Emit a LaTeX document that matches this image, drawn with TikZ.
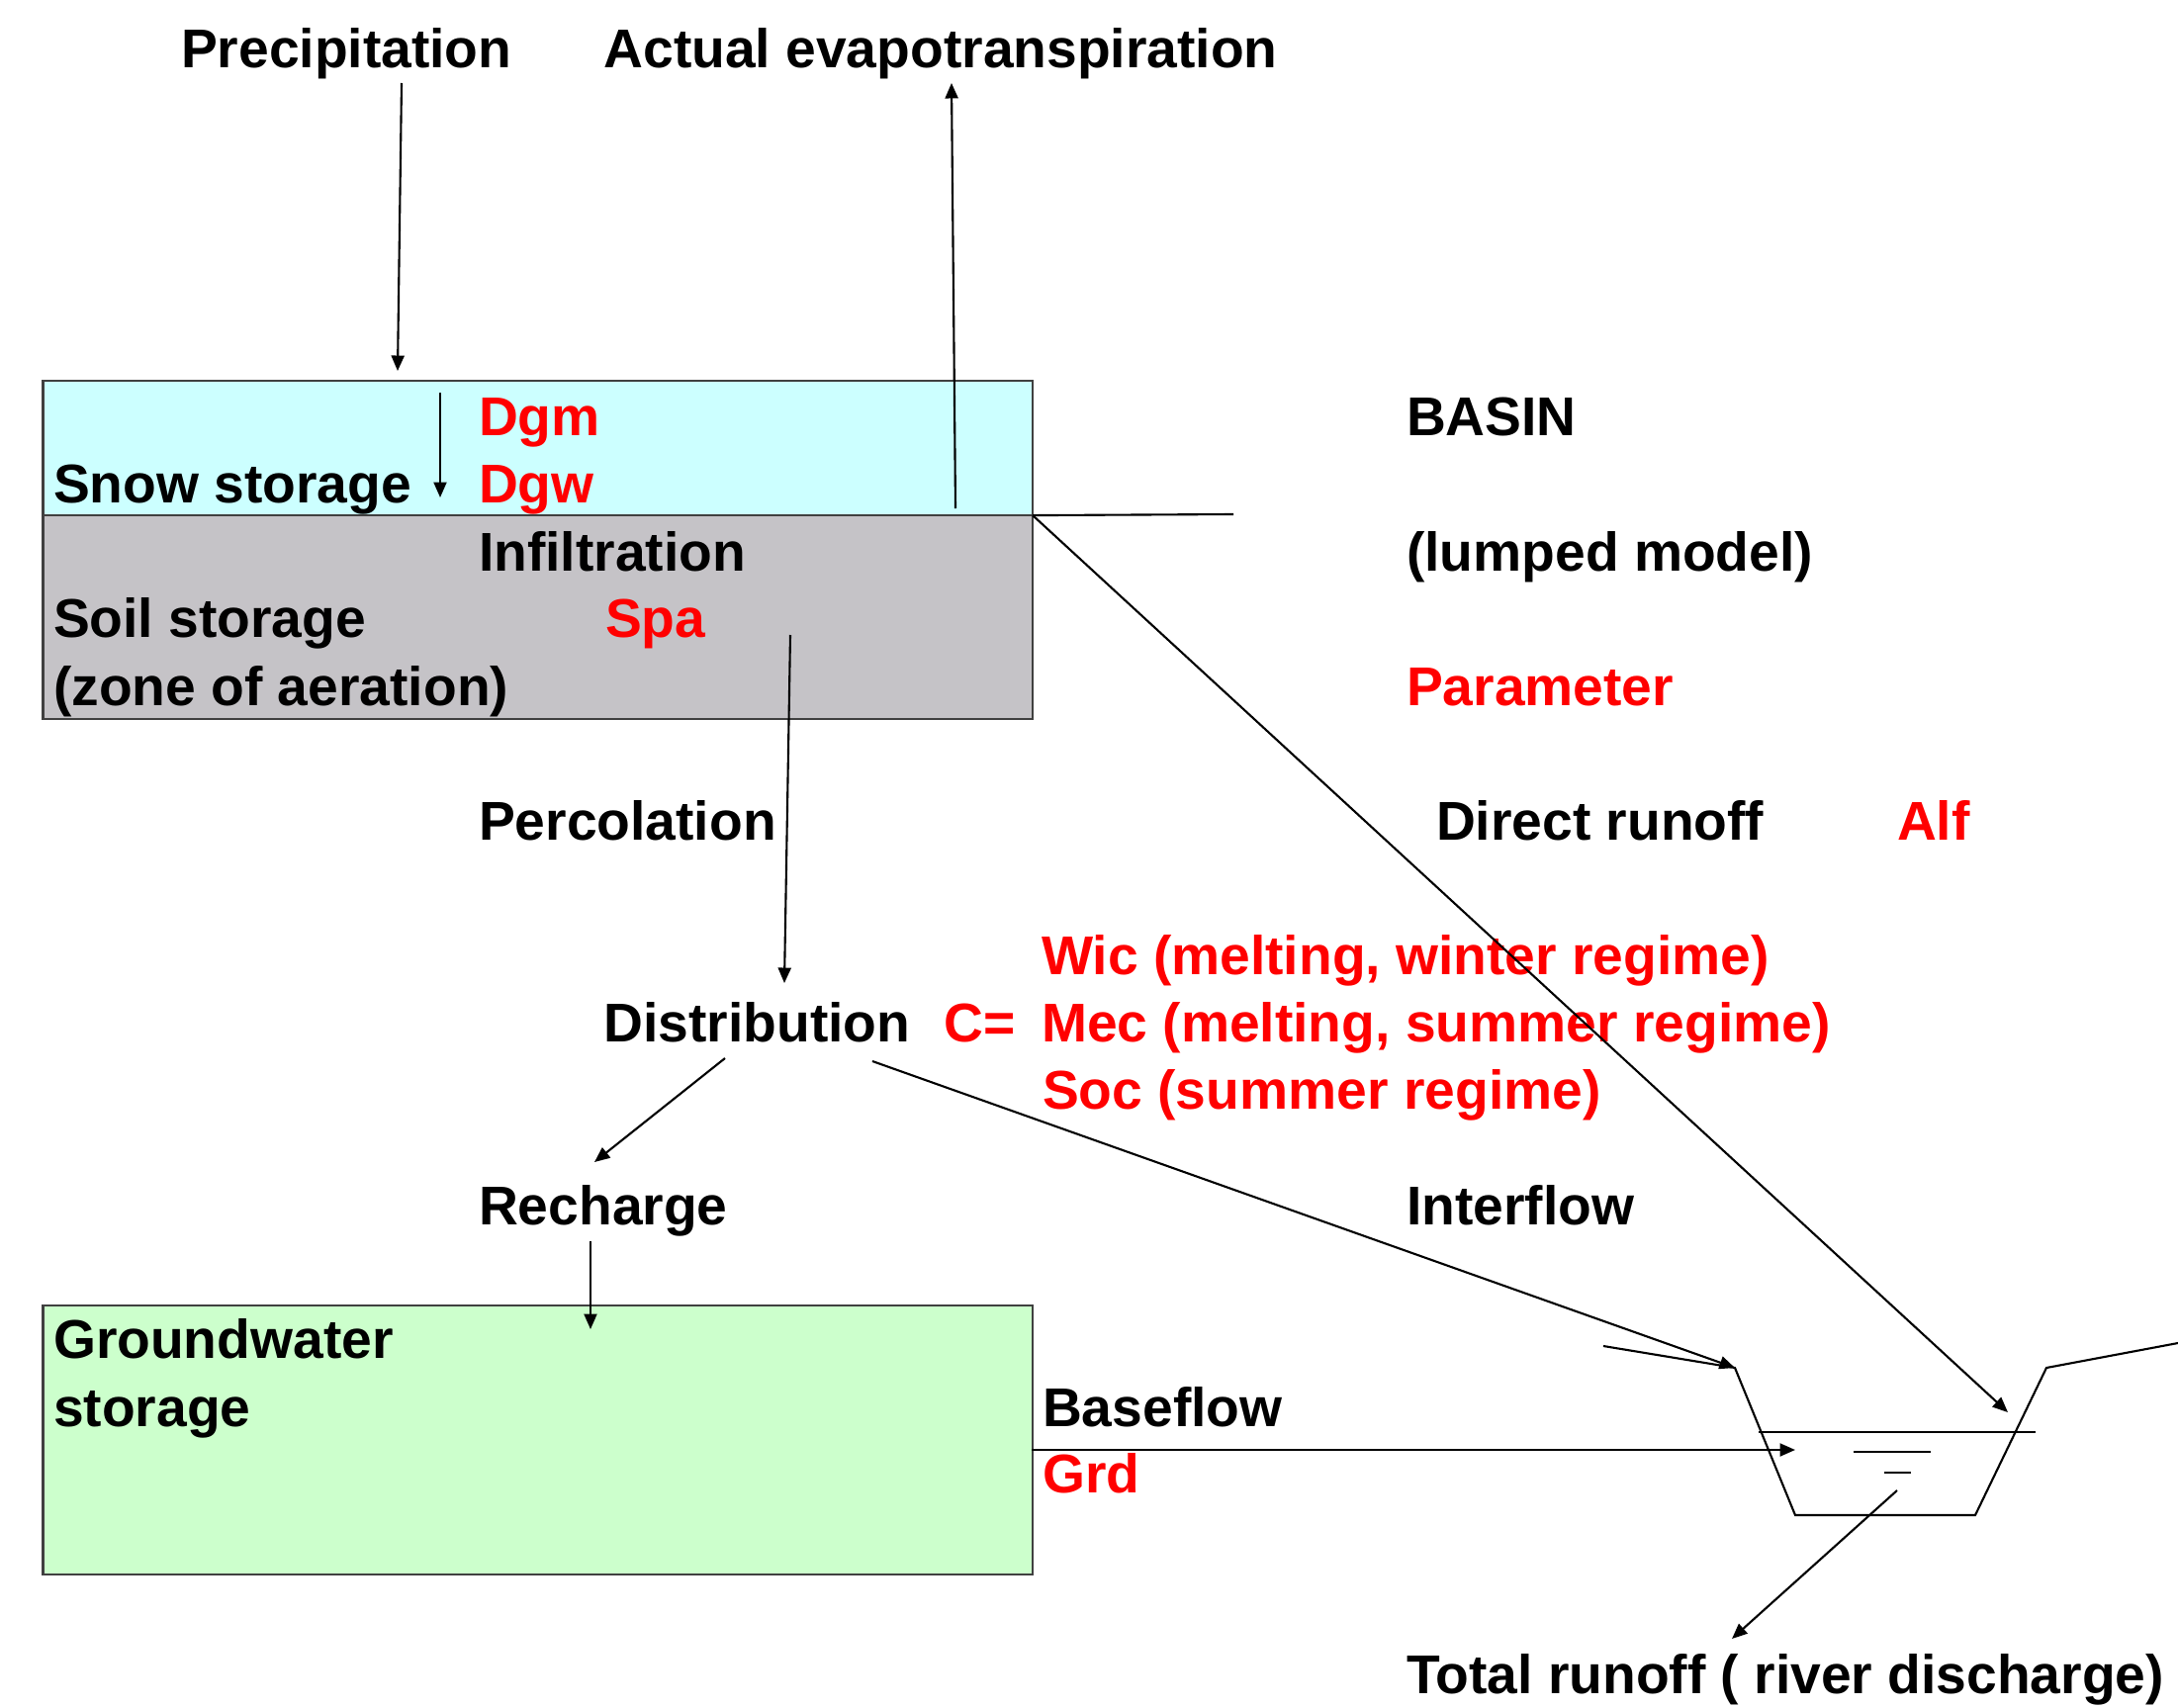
\documentclass[tikz,border=0pt]{standalone}
\usepackage{fontspec}
\setmainfont{Liberation Sans}
\usetikzlibrary{arrows.meta, positioning}
\definecolor{snowc}{HTML}{CCFFFF}
\definecolor{soilc}{HTML}{C5C3C7}
\definecolor{gwc}{HTML}{CCFFCC}
\definecolor{pred}{HTML}{FF0000}
\tikzset{
  every picture/.style={line width=0.6pt},
  store/.style={draw=black!75, fill=#1, minimum width=10cm, inner sep=0pt, outer sep=0pt, anchor=north west},
  lbl/.style={font=\fontsize{15.7}{18}\selectfont\bfseries, inner sep=0pt, anchor=base west},
  param/.style={lbl, text=pred},
  arrow/.style={-{Triangle[length=4.4pt, width=3.7pt]}, draw=black},
}

\begin{document}
\begin{tikzpicture}[x=0.01cm, y=-0.01cm]
  \useasboundingbox (0,0) rectangle (2202,1727);
  % storages
  \node[store=snowc, minimum height=1.36cm] (snow) at (43.5,385) {};
  \node[store=soilc, minimum height=2.06cm] (soil) at (43.5,521) {};
  \node[store=gwc, minimum height=2.72cm] (gw) at (43.5,1320) {};

  % labels
  \node[lbl] (prec) at (182,68) {Precipitation};
  \node[lbl] (evapo) at (609.5,68) {Actual evapotranspiration};
  \node[param] (dgm) at (483,440) {Dgm};
  \node[param] (dgw) at (483,508) {Dgw};
  \node[lbl] (snowl) at (53,508) {Snow storage};
  \node[lbl] (infil) at (483,577) {Infiltration};
  \node[lbl] (soill) at (53,644) {Soil storage};
  \node[param] (spa) at (611,644) {Spa};
  \node[lbl] (zone) at (53,713) {(zone of aeration)};
  \node[lbl] (perc) at (483,849) {Percolation};
  \node[lbl] (dist) at (609.5,1053) {Distribution};
  \node[param] (ceq) at (953.5,1053) {C=};
  \node[param] (wic) at (1052,985) {Wic (melting, winter regime)};
  \node[param] (mec) at (1052,1053) {Mec (melting, summer regime)};
  \node[param] (soc) at (1053,1121) {Soc (summer regime)};
  \node[lbl] (basin) at (1421,440) {BASIN};
  \node[lbl] (lumped) at (1421,577) {(lumped model)};
  \node[param] (parl) at (1421,713) {Parameter};
  \node[lbl] (direct) at (1451,849) {Direct runoff};
  \node[param] (alf) at (1917,849) {Alf};
  \node[lbl] (inter) at (1421,1238) {Interflow};
  \node[lbl] (rech) at (483,1238) {Recharge};
  \node[lbl] (gwl1) at (53,1373) {Groundwater};
  \node[lbl] (gwl2) at (53,1442) {storage};
  \node[lbl] (base) at (1053,1442) {Baseflow};
  \node[param] (grd) at (1053,1509) {Grd};
  \node[lbl] (total) at (1421,1712) {Total runoff ( river discharge)};

  % river channel
  \coordinate (bankL) at (1621,1361);
  \coordinate (chTL) at (1754,1383);
  \coordinate (chBL) at (1815,1532);
  \coordinate (chBR) at (1997,1532);
  \coordinate (chTR) at (2069,1383);
  \coordinate (bankR) at (2202,1358);
  \draw (bankL) -- (chTL) -- (chBL) -- (chBR) -- (chTR) -- (bankR);
  \coordinate (wsL) at (1778,1448);
  \coordinate (wsR) at (2058,1448);
  \draw (wsL) -- (wsR);
  \coordinate (w1a) at (1874,1468);
  \coordinate (w1b) at (1952,1468);
  \coordinate (w2a) at (1905,1489);
  \coordinate (w2b) at (1932,1489);
  \draw (w1a) -- (w1b);
  \draw (w2a) -- (w2b);
  \coordinate (groundR) at (1247,520);
  \draw (snow.south east) -- (groundR);

  % fluxes
  \coordinate (precA) at (406,84);
  \coordinate (precB) at (402,375);
  \draw[arrow] (precA) -- (precB);
  \coordinate (evA) at (966,514);
  \coordinate (evB) at (962,84);
  \draw[arrow] (evA) -- (evB);
  \coordinate (meltA) at (445,397);
  \coordinate (meltB) at (445,503);
  \draw[arrow] (meltA) -- (meltB);
  \coordinate (dirB) at (2030,1428);
  \draw[arrow] (snow.south east) -- (dirB);
  \coordinate (percA) at (799,642);
  \coordinate (percB) at (793,994);
  \draw[arrow] (percA) -- (percB);
  \coordinate (rechA) at (733,1070);
  \coordinate (rechB) at (601,1175);
  \draw[arrow] (rechA) -- (rechB);
  \coordinate (gwA) at (597,1255);
  \coordinate (gwB) at (597,1344);
  \draw[arrow] (gwA) -- (gwB);
  \coordinate (intA) at (882,1073);
  \draw[arrow] (intA) -- (chTL);
  \coordinate (bfA) at (1043,1466);
  \coordinate (bfB) at (1815,1466);
  \draw[arrow] (bfA) -- (bfB);
  \coordinate (totA) at (1918,1507);
  \coordinate (totB) at (1751,1657);
  \draw[arrow] (totA) -- (totB);
\end{tikzpicture}
\end{document}
